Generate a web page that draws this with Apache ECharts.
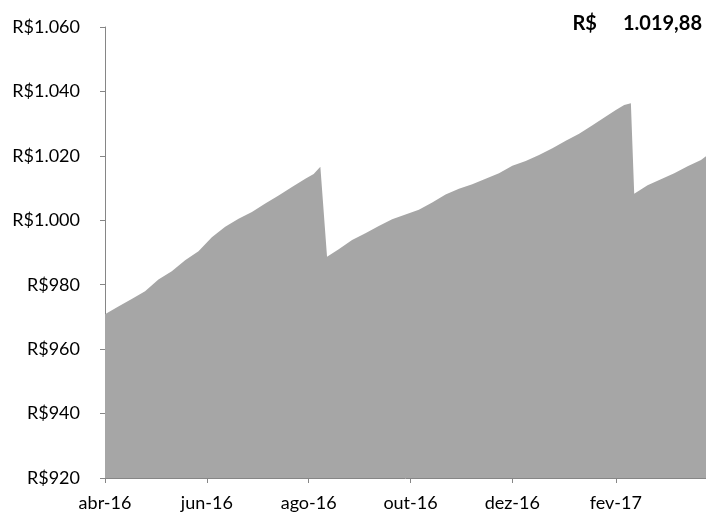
<!DOCTYPE html>
<html>
<head>
<meta charset="utf-8">
<script src="https://cdn.jsdelivr.net/npm/echarts@6/dist/echarts.min.js"></script>
<style>
html,body{margin:0;padding:0;background:#fff;}
#chart{width:706px;height:514px;}
</style>
</head>
<body>
<div id="chart"></div>
<script>
// Data
var dates = [
  '2016-04-01','2016-04-09','2016-04-17','2016-04-25','2016-05-03','2016-05-11','2016-05-19','2016-05-27',
  '2016-06-04','2016-06-12','2016-06-20','2016-06-28','2016-07-06','2016-07-14','2016-07-22','2016-07-30',
  '2016-08-04','2016-08-08','2016-08-12','2016-08-19','2016-08-27','2016-09-04','2016-09-12','2016-09-20',
  '2016-09-28','2016-10-06','2016-10-14','2016-10-22','2016-10-30','2016-11-07','2016-11-15','2016-11-23',
  '2016-12-01','2016-12-09','2016-12-17','2016-12-25','2017-01-02','2017-01-10','2017-01-18','2017-01-26',
  '2017-02-01','2017-02-06','2017-02-10','2017-02-12','2017-02-20','2017-02-28','2017-03-08','2017-03-16',
  '2017-03-24','2017-03-27'
];
var values = [
  970.8, 973.2, 975.6, 978.0, 981.6, 984.2, 987.6, 990.4,
  994.7, 998.0, 1000.5, 1002.6, 1005.2, 1007.7, 1010.3, 1012.9,
  1014.4, 1016.6, 988.7, 991.0, 993.9, 996.0, 998.2, 1000.3,
  1001.8, 1003.3, 1005.5, 1008.0, 1009.8, 1011.2, 1012.9, 1014.6,
  1016.9, 1018.4, 1020.3, 1022.4, 1024.7, 1026.9, 1029.5, 1032.2,
  1034.2, 1035.8, 1036.3, 1008.2, 1010.9, 1012.7, 1014.6, 1016.8,
  1018.7, 1019.88
];
var tickDates = ['2016-04-01','2016-06-01','2016-08-01','2016-10-01','2016-12-01','2017-02-01'];
var tickLabels = ['abr-16','jun-16','ago-16','out-16','dez-16','fev-17'];
var lastValueCurrency = 'R$';
var lastValueNumber = '1.019,88';

var FONT = 'Lato, "Open Sans", sans-serif';
function ts(s){ var p = s.split('-'); return Date.UTC(+p[0], +p[1]-1, +p[2]); }
var tickTs = tickDates.map(ts);
var seriesData = dates.map(function(d,i){ return [ts(d), values[i]]; });

function fmtY(v){
  var s = String(v);
  if (v >= 1000) s = s.slice(0, s.length-3) + '.' + s.slice(s.length-3);
  return 'R$' + s;
}

var chart = echarts.init(document.getElementById('chart'), null, {renderer:'canvas'});
chart.setOption({
  animation:false,
  backgroundColor:'#ffffff',
  title:{
    text:'{a|' + lastValueCurrency + '}{b|' + lastValueNumber + '}',
    right:4, top:14, padding:0,
    textStyle:{
      fontFamily:FONT, fontSize:20, fontWeight:'bold', color:'#000',
      rich:{
        a:{fontFamily:FONT, fontSize:20, fontWeight:'bold', color:'#000'},
        b:{fontFamily:FONT, fontSize:20, fontWeight:'bold', color:'#000', padding:[0,0,0,26]}
      }
    }
  },
  grid:{left:105, right:0, top:27, bottom:36, containLabel:false},
  xAxis:{
    type:'value',
    min:ts(dates[0]), max:ts(dates[dates.length-1]),
    axisLine:{show:true, lineStyle:{color:'#868686', width:1}},
    axisTick:{show:true, inside:false, length:5, lineStyle:{color:'#868686'}, customValues:tickTs},
    axisLabel:{
      customValues:tickTs,
      margin:16,
      fontFamily:FONT, fontSize:18, color:'#000',
      formatter:function(v){ var i = tickTs.indexOf(v); return i>=0 ? tickLabels[i] : ''; }
    },
    splitLine:{show:false}
  },
  yAxis:{
    type:'value', min:920, max:1060, interval:20,
    axisLine:{show:true, lineStyle:{color:'#868686', width:1}},
    axisTick:{show:true, inside:false, length:5, lineStyle:{color:'#868686'}},
    axisLabel:{margin:25, fontFamily:FONT, fontSize:18, color:'#000', formatter:fmtY},
    splitLine:{show:false}
  },
  series:[{
    type:'line',
    data:seriesData,
    symbol:'none',
    lineStyle:{width:0, color:'#a6a6a6'},
    areaStyle:{color:'#a6a6a6', opacity:1},
    z:1
  }]
});
</script>
</body>
</html>
